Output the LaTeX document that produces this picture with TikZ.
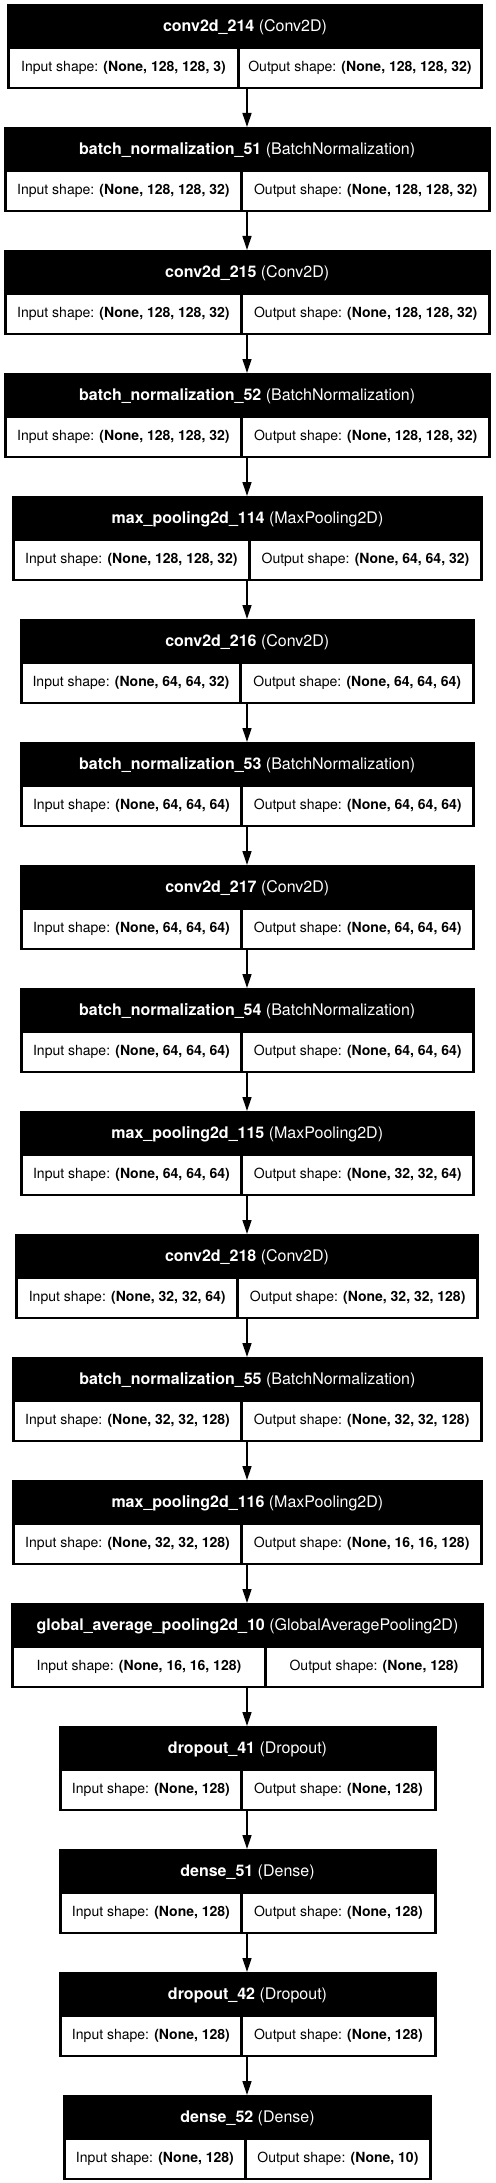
\documentclass[tikz,border=0pt]{standalone}
\usepackage{fontspec}
\setmainfont{TeX Gyre Heros}
\usetikzlibrary{arrows.meta}

\tikzset{
  laybox/.style={fill=black, inner sep=0pt, anchor=north west, minimum height=85pt},
  headtxt/.style={text=white, inner sep=0pt, font=\fontsize{16}{19}\selectfont},
  shapecell/.style={fill=white, inner sep=0pt, anchor=north west, minimum height=38pt,
    font=\fontsize{14}{17}\selectfont},
  flow/.style={-{Triangle[length=14pt,width=9pt]}, line width=1.3pt},
}

% #1 indice, #2 x sinistra, #3 x destra, #4 x divisore, #5 nome, #6 tipo, #7 input, #8 output
\newcommand{\layer}[8]{%
  \pgfmathsetmacro{\ytop}{4+123*(#1-1)}
  \node[laybox, minimum width={(#3-#2)*1pt}] (L#1) at (#2,\ytop) {};
  \node[headtxt] (L#1h) at ({(#2+#3)/2},\ytop+23) {\textbf{#5} (#6)};
  \node[shapecell, minimum width={(#4-#2-4.5)*1pt}] (L#1i) at (#2+3,\ytop+45) {Input shape: \textbf{#7}};
  \node[shapecell, minimum width={(#3-#4-4.5)*1pt}] (L#1o) at (#4+1.5,\ytop+45) {Output shape: \textbf{#8}};
}

\begin{document}
\begin{tikzpicture}[x=1pt,y=-1pt]
    \useasboundingbox (0,0) rectangle (495,2183);

    % blocchi
    \layer{1}{7}{483}{238}{conv2d\_214}{Conv2D}{(None, 128, 128, 3)}{(None, 128, 128, 32)}
    \layer{2}{3.3}{491}{241.5}{batch\_normalization\_51}{BatchNormalization}{(None, 128, 128, 32)}{(None, 128, 128, 32)}
    \layer{3}{3.3}{491}{241.5}{conv2d\_215}{Conv2D}{(None, 128, 128, 32)}{(None, 128, 128, 32)}
    \layer{4}{3.3}{491}{241.5}{batch\_normalization\_52}{BatchNormalization}{(None, 128, 128, 32)}{(None, 128, 128, 32)}
    \layer{5}{12}{483}{249}{max\_pooling2d\_114}{MaxPooling2D}{(None, 128, 128, 32)}{(None, 64, 64, 32)}
    \layer{6}{19.5}{475}{240.5}{conv2d\_216}{Conv2D}{(None, 64, 64, 32)}{(None, 64, 64, 64)}
    \layer{7}{19.5}{475}{241.5}{batch\_normalization\_53}{BatchNormalization}{(None, 64, 64, 64)}{(None, 64, 64, 64)}
    \layer{8}{19.5}{475}{241.5}{conv2d\_217}{Conv2D}{(None, 64, 64, 64)}{(None, 64, 64, 64)}
    \layer{9}{19.5}{475}{241.5}{batch\_normalization\_54}{BatchNormalization}{(None, 64, 64, 64)}{(None, 64, 64, 64)}
    \layer{10}{19.5}{475}{241.5}{max\_pooling2d\_115}{MaxPooling2D}{(None, 64, 64, 64)}{(None, 32, 32, 64)}
    \layer{11}{15}{479}{237.5}{conv2d\_218}{Conv2D}{(None, 32, 32, 64)}{(None, 32, 32, 128)}
    \layer{12}{11.7}{483}{241.5}{batch\_normalization\_55}{BatchNormalization}{(None, 32, 32, 128)}{(None, 32, 32, 128)}
    \layer{13}{11.7}{483}{241.5}{max\_pooling2d\_116}{MaxPooling2D}{(None, 32, 32, 128)}{(None, 16, 16, 128)}
    \layer{14}{11}{484}{265}{global\_average\_pooling2d\_10}{GlobalAveragePooling2D}{(None, 16, 16, 128)}{(None, 128)}
    \layer{15}{58.5}{436.5}{241.5}{dropout\_41}{Dropout}{(None, 128)}{(None, 128)}
    \layer{16}{58.5}{436.5}{241.5}{dense\_51}{Dense}{(None, 128)}{(None, 128)}
    \layer{17}{58.5}{436.5}{241.5}{dropout\_42}{Dropout}{(None, 128)}{(None, 128)}
    \layer{18}{63}{432}{245}{dense\_52}{Dense}{(None, 128)}{(None, 10)}

    % frecce
    \coordinate (asse) at (247,0);
    \draw[flow] (L1.south -| asse) -- (L2.north -| asse);
    \draw[flow] (L2.south -| asse) -- (L3.north -| asse);
    \draw[flow] (L3.south -| asse) -- (L4.north -| asse);
    \draw[flow] (L4.south -| asse) -- (L5.north -| asse);
    \draw[flow] (L5.south -| asse) -- (L6.north -| asse);
    \draw[flow] (L6.south -| asse) -- (L7.north -| asse);
    \draw[flow] (L7.south -| asse) -- (L8.north -| asse);
    \draw[flow] (L8.south -| asse) -- (L9.north -| asse);
    \draw[flow] (L9.south -| asse) -- (L10.north -| asse);
    \draw[flow] (L10.south -| asse) -- (L11.north -| asse);
    \draw[flow] (L11.south -| asse) -- (L12.north -| asse);
    \draw[flow] (L12.south -| asse) -- (L13.north -| asse);
    \draw[flow] (L13.south -| asse) -- (L14.north -| asse);
    \draw[flow] (L14.south -| asse) -- (L15.north -| asse);
    \draw[flow] (L15.south -| asse) -- (L16.north -| asse);
    \draw[flow] (L16.south -| asse) -- (L17.north -| asse);
    \draw[flow] (L17.south -| asse) -- (L18.north -| asse);
\end{tikzpicture}
\end{document}
